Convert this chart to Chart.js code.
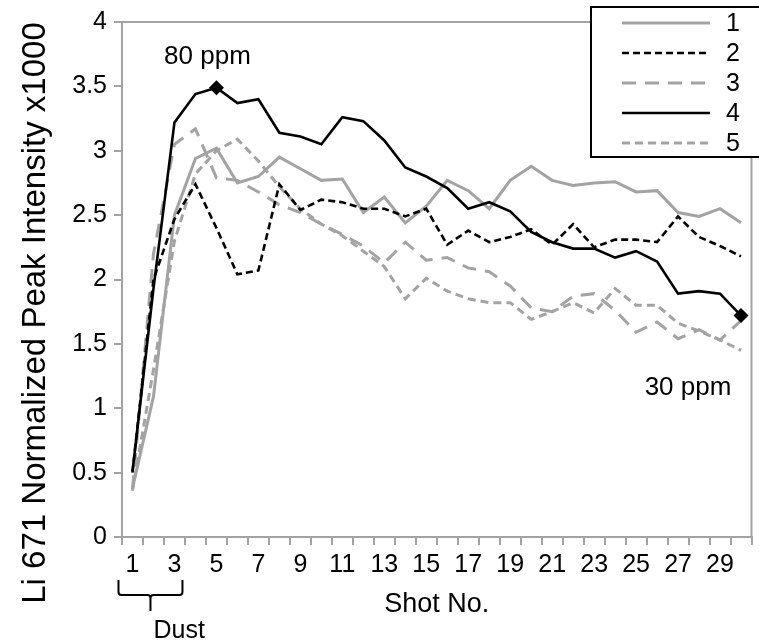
<!DOCTYPE html>
<html><head><meta charset="utf-8">
<script src="https://cdn.jsdelivr.net/npm/chart.js@4"></script>
<style>html,body{margin:0;padding:0;background:#fff;}#wrap{width:759px;height:643px;position:relative;}</style>
</head><body><div id="wrap"><canvas id="c" width="759" height="643"></canvas></div>
<script>
const shots = Array.from({length: 30}, (_, i) => String(i + 1));
const series1 = [0.38,1.09,2.50,2.94,3.02,2.75,2.80,2.95,2.86,2.77,2.78,2.52,2.64,2.44,2.57,2.77,2.69,2.55,2.77,2.88,2.77,2.73,2.75,2.76,2.68,2.69,2.52,2.49,2.55,2.44];
const series2 = [0.50,2.00,2.47,2.74,2.40,2.04,2.07,2.74,2.54,2.62,2.60,2.55,2.55,2.49,2.55,2.27,2.38,2.29,2.33,2.39,2.27,2.43,2.25,2.31,2.31,2.29,2.49,2.33,2.26,2.18];
const series3 = [0.37,2.20,3.05,3.17,2.79,2.77,2.68,2.58,2.52,2.43,2.35,2.26,2.13,2.29,2.15,2.17,2.09,2.06,1.95,1.78,1.75,1.87,1.89,1.76,1.59,1.67,1.54,1.61,1.53,1.68];
const series4 = [0.51,1.93,3.22,3.44,3.49,3.37,3.40,3.14,3.11,3.05,3.26,3.23,3.08,2.87,2.80,2.71,2.55,2.60,2.53,2.37,2.29,2.24,2.24,2.17,2.22,2.14,1.89,1.91,1.89,1.72];
const series5 = [0.36,1.30,2.30,2.82,3.00,3.09,2.92,2.72,2.55,2.43,2.34,2.22,2.10,1.85,2.01,1.91,1.85,1.82,1.82,1.69,1.75,1.82,1.74,1.93,1.80,1.80,1.66,1.60,1.53,1.45];
const seriesLabels = ['1','2','3','4','5'];
const markedIdx = [4, 29];
const notes = [
  {text: '80 ppm', idx: 4, dx: -9, dy: -24},
  {text: '30 ppm', idx: 29, dx: -53, dy: 79}
];
const bracketText = 'Dust';
const yTitle = 'Li 671 Normalized Peak Intensity x1000';
const xTitle = 'Shot No.';

const GRAY = '#a3a3a3';
const FONT = "'Liberation Sans', Arial, Helvetica, sans-serif";

const styles = [
  {color: GRAY, dash: [], width: 3, order: 4},
  {color: '#000', dash: [7,4], width: 2.6, order: 1},
  {color: GRAY, dash: [14,9], width: 3, order: 3},
  {color: '#000', dash: [], width: 2.6, order: 0},
  {color: GRAY, dash: [8,5], width: 3, order: 2}
];
const allSeries = [series1, series2, series3, series4, series5];

const datasets = allSeries.map((d, i) => ({
  label: seriesLabels[i],
  data: d,
  borderColor: styles[i].color,
  backgroundColor: styles[i].color,
  borderWidth: styles[i].width,
  borderDash: styles[i].dash,
  tension: 0,
  fill: false,
  order: styles[i].order,
  pointStyle: 'rectRot',
  pointRadius: i === 3 ? (c => markedIdx.includes(c.dataIndex) ? 7.5 : 0) : 0,
  pointHoverRadius: 0,
  pointBorderWidth: 0
}));

const extras = {
  id: 'extras',
  afterDraw(chart) {
    const ctx = chart.ctx, a = chart.chartArea;
    const xs = chart.scales.x, ys = chart.scales.y;
    ctx.save();
    // plot border top/right
    ctx.strokeStyle = GRAY; ctx.lineWidth = 2;
    ctx.beginPath();
    ctx.moveTo(a.left, a.top); ctx.lineTo(a.right, a.top); ctx.lineTo(a.right, a.bottom);
    ctx.stroke();
    // y title
    ctx.save();
    ctx.translate(36, 313);
    ctx.rotate(-Math.PI / 2);
    ctx.fillStyle = '#000';
    ctx.font = '33px ' + FONT;
    ctx.textAlign = 'center'; ctx.textBaseline = 'middle';
    ctx.fillText(yTitle, 0, 0);
    ctx.restore();
    // annotations
    ctx.fillStyle = '#000';
    ctx.font = '26px ' + FONT;
    ctx.textAlign = 'center'; ctx.textBaseline = 'alphabetic';
    notes.forEach(n => {
      const px = xs.getPixelForValue(n.idx), py = ys.getPixelForValue(series4[n.idx]);
      ctx.fillText(n.text, px + n.dx, py + n.dy);
    });
    // bracket
    const L = xs.getPixelForValue(0) - 14, R = xs.getPixelForValue(2) + 8, M = xs.getPixelForValue(1) - 3;
    const top = 580, bot = 595, stem = 611;
    ctx.strokeStyle = '#000'; ctx.lineWidth = 2;
    ctx.beginPath();
    ctx.moveTo(L, top); ctx.lineTo(L, bot - 3); ctx.quadraticCurveTo(L, bot, L + 3, bot);
    ctx.lineTo(M - 3, bot); ctx.quadraticCurveTo(M, bot, M, bot + 3); ctx.lineTo(M, stem);
    ctx.moveTo(M, bot + 3); ctx.quadraticCurveTo(M, bot, M + 3, bot);
    ctx.lineTo(R - 3, bot); ctx.quadraticCurveTo(R, bot, R, bot - 3); ctx.lineTo(R, top);
    ctx.stroke();
    ctx.font = '25px ' + FONT;
    ctx.textAlign = 'left';
    ctx.fillText(bracketText, L + 35, 638);
    // legend
    const bx = 591, by = 7, bw = 200, bh = 150;
    ctx.fillStyle = '#fff';
    ctx.fillRect(bx, by, bw, bh);
    ctx.strokeStyle = '#000'; ctx.lineWidth = 2;
    ctx.strokeRect(bx, by, bw, bh);
    ctx.font = '25px ' + FONT;
    ctx.textBaseline = 'middle';
    datasets.forEach((ds, i) => {
      const y = 23 + i * 30;
      ctx.strokeStyle = ds.borderColor; ctx.lineWidth = ds.borderWidth;
      ctx.setLineDash(ds.borderDash);
      ctx.beginPath(); ctx.moveTo(622, y); ctx.lineTo(710, y); ctx.stroke();
      ctx.setLineDash([]);
      ctx.fillStyle = '#000';
      ctx.fillText(ds.label, 726, y + 1);
    });
    ctx.restore();
  }
};

new Chart(document.getElementById('c'), {
  type: 'line',
  data: {labels: shots, datasets},
  options: {
    responsive: false,
    animation: false,
    devicePixelRatio: 1,
    layout: {padding: {top: 20, right: 7, left: 0, bottom: 0}},
    plugins: {legend: {display: false}, tooltip: {enabled: false}},
    scales: {
      x: {
        type: 'category',
        offset: true,
        afterFit: s => { s.height = 106; },
        grid: {offset: true, drawOnChartArea: false, drawTicks: true, tickLength: 8, color: GRAY, lineWidth: 2},
        border: {color: GRAY, width: 2},
        ticks: {
          autoSkip: false, maxRotation: 0, padding: 5, color: '#000',
          font: {family: FONT, size: 25},
          callback: function(v, i) { return i % 2 === 0 ? this.getLabelForValue(v) : ''; }
        },
        title: {display: true, text: xTitle, color: '#000', font: {family: FONT, size: 27}, padding: {top: 22, bottom: 22}}
      },
      y: {
        min: 0, max: 4,
        afterFit: s => { s.width = 122; },
        grid: {drawOnChartArea: false, drawTicks: true, tickLength: 8, color: GRAY, lineWidth: 2},
        border: {color: GRAY, width: 2},
        ticks: {stepSize: 0.5, padding: 7, color: '#000', font: {family: FONT, size: 25}, callback: v => String(v)},
        title: {display: false}
      }
    }
  },
  plugins: [extras]
});
</script></body></html>
